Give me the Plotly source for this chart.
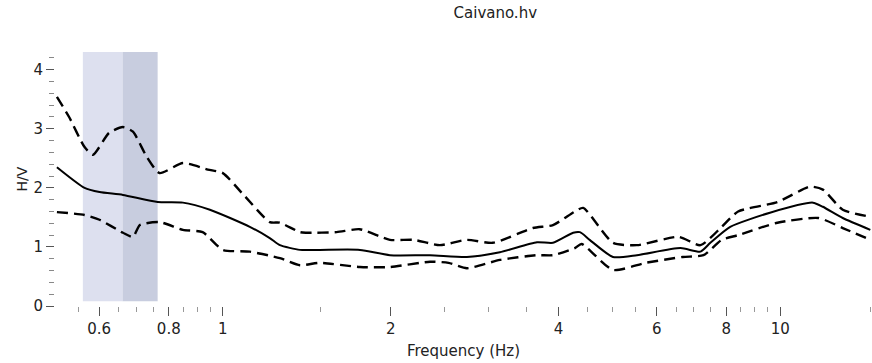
import plotly.graph_objects as go

# Mean H/V curve
freq_mean = [0.504, 0.565, 0.601, 0.662, 0.764, 0.848, 0.948, 1.118, 1.214, 1.266, 1.375,
             1.493, 1.762, 1.994, 2.353, 2.74, 3.14, 3.66, 3.91, 4.25, 4.37, 4.55, 5.01,
             5.53, 6.62, 7.19, 7.49, 8.13, 9.58, 11.44, 11.92, 12.94, 14.5]
hv_mean = [2.35, 2.0, 1.93, 1.88, 1.76, 1.75, 1.63, 1.34, 1.15, 1.03, 0.95,
           0.95, 0.95, 0.86, 0.86, 0.83, 0.91, 1.08, 1.07, 1.24, 1.25, 1.12, 0.83,
           0.86, 0.98, 0.92, 1.07, 1.34, 1.58, 1.75, 1.68, 1.49, 1.29]

# Upper std curve
freq_up = [0.504, 0.53, 0.565, 0.585, 0.625, 0.662, 0.69, 0.73, 0.77, 0.848, 0.94, 1.0,
           1.09, 1.214, 1.266, 1.375, 1.41, 1.6, 1.76, 1.994, 2.2, 2.45, 2.74, 3.05,
           3.6, 3.91, 4.28, 4.43, 5.01, 5.53, 6.57, 7.19, 7.85, 8.4, 9.88, 11.3, 11.92,
           12.94, 14.5]
hv_up = [3.54, 3.2, 2.69, 2.56, 2.93, 3.03, 2.95, 2.53, 2.25, 2.42, 2.31, 2.25,
         1.88, 1.42, 1.41, 1.25, 1.24, 1.25, 1.3, 1.12, 1.12, 1.03, 1.12, 1.07,
         1.32, 1.37, 1.6, 1.66, 1.07, 1.03, 1.17, 1.03, 1.34, 1.6, 1.76, 2.02, 1.97,
         1.63, 1.51]

# Lower std curve
freq_lo = [0.504, 0.565, 0.601, 0.662, 0.69, 0.71, 0.77, 0.848, 0.92, 1.0, 1.118,
           1.266, 1.375, 1.493, 1.762, 1.994, 2.353, 2.54, 2.74, 3.14, 3.66, 3.91, 4.28,
           4.4, 5.01, 5.73, 6.68, 7.28, 7.85, 8.4, 9.88, 11.7, 12.94, 14.5]
hv_lo = [1.59, 1.54, 1.46, 1.24, 1.17, 1.37, 1.42, 1.29, 1.25, 0.95, 0.92,
         0.81, 0.69, 0.73, 0.66, 0.66, 0.75, 0.73, 0.64, 0.78, 0.86, 0.86, 0.98,
         1.05, 0.61, 0.73, 0.83, 0.86, 1.12, 1.2, 1.41, 1.49, 1.32, 1.12]

# f0 band (frequency limits) and axis ticks
f0_band = [0.561, 0.661, 0.764]
x_tickvals = [0.6, 0.8, 1, 2, 4, 6, 8, 10]
x_ticktext = ["0.6", "0.8", "1", "2", "4", "6", "8", "10"]
x_minor = [0.55, 0.65, 0.7, 0.75, 0.85, 0.9, 0.95, 1.5, 2.5, 3, 3.5, 4.5, 5, 5.5,
           6.5, 7, 7.5, 8.5, 9, 9.5, 14.5]
y_tickvals = [0, 1, 2, 3, 4]

fig = go.Figure()

fig.add_shape(type="rect", xref="x", yref="y", x0=f0_band[0], x1=f0_band[1],
              y0=0.08, y1=4.3, fillcolor="#dde0ef", line_width=0, layer="below")
fig.add_shape(type="rect", xref="x", yref="y", x0=f0_band[1], x1=f0_band[2],
              y0=0.08, y1=4.3, fillcolor="#c8cddf", line_width=0, layer="below")

dash = "11px,6px"
fig.add_trace(go.Scatter(x=freq_up, y=hv_up, mode="lines",
                         line=dict(color="black", width=2.4, dash=dash, shape="spline", smoothing=0.6)))
fig.add_trace(go.Scatter(x=freq_lo, y=hv_lo, mode="lines",
                         line=dict(color="black", width=2.4, dash=dash, shape="spline", smoothing=0.6)))
fig.add_trace(go.Scatter(x=freq_mean, y=hv_mean, mode="lines",
                         line=dict(color="black", width=2, shape="spline", smoothing=0.6)))

font = "DejaVu Sans, Verdana, sans-serif"
fig.update_layout(
    width=872, height=363,
    margin=dict(l=55, r=0, t=52, b=57),
    paper_bgcolor="white", plot_bgcolor="white",
    showlegend=False,
    font=dict(family=font, color="#222222", size=15),
    title=dict(text="Caivano.hv", x=0.568, xanchor="center", y=0.965, yanchor="middle",
               font=dict(family=font, size=15, color="#222222")),
    xaxis=dict(type="log", range=[-0.3010, 1.1644], showgrid=False, zeroline=False,
               showline=False, tickvals=x_tickvals, ticktext=x_ticktext,
               ticks="outside", ticklen=9, tickwidth=1, tickcolor="#555555",
               tickfont=dict(size=15),
               minor=dict(tickvals=x_minor, ticks="outside", ticklen=5, tickwidth=1,
                          tickcolor="#999999", showgrid=False),
               title=dict(text="Frequency (Hz)", font=dict(size=15), standoff=8)),
    yaxis=dict(range=[0, 4.3], showgrid=False, zeroline=False, showline=False,
               tickvals=y_tickvals, ticks="outside", ticklen=8, tickwidth=1,
               tickcolor="#555555", tickfont=dict(size=15),
               minor=dict(dtick=0.2, ticks="outside", ticklen=5, tickwidth=1,
                          tickcolor="#888888", showgrid=False),
               title=dict(text="H/V", font=dict(size=14), standoff=2)),
)

fig.write_html("out.html")
